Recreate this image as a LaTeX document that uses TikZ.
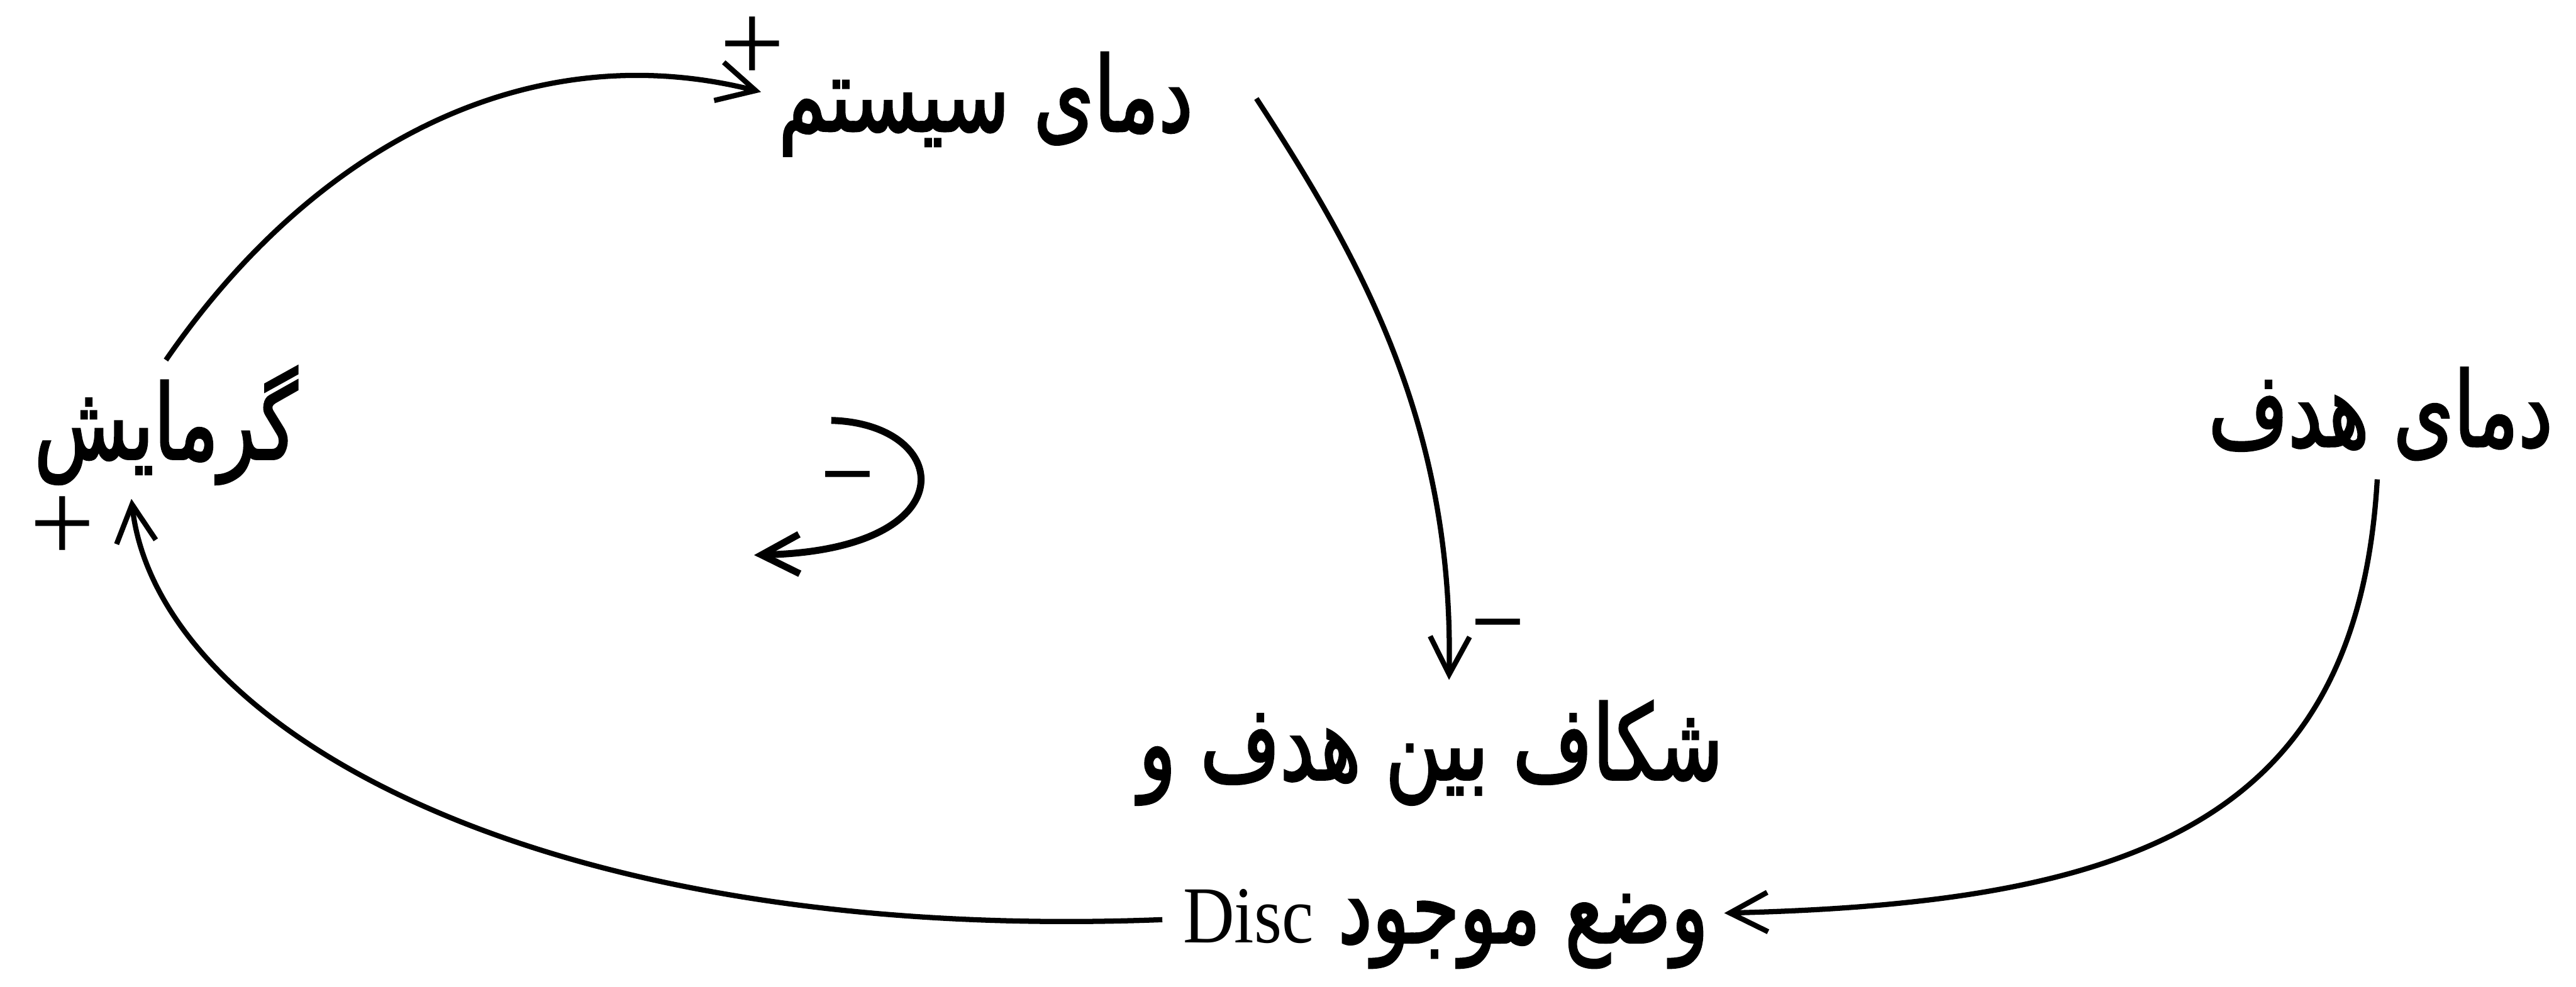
\documentclass[tikz,border=0pt]{standalone}
\usepackage{fontspec}
\TeXXeTstate=1
\newfontfamily\arabicfont[Script=Arabic, FakeStretch=0.74, FakeBold=1.8]{DejaVu Sans}
\newfontfamily\latinfont{Liberation Serif}
\newfontfamily\discfont[FakeStretch=0.88]{Liberation Serif}
\usetikzlibrary{arrows.meta}

\tikzset{
    link/.style={-{Straight Barb[length=2.3mm,width=2.4mm]}, line width=0.9pt},
    varname/.style={inner sep=0pt, font=\arabicfont\fontsize{18}{20}\selectfont},
    polarity/.style={inner sep=0pt, font=\latinfont\fontsize{20}{20}\selectfont},
    minus/.style={inner sep=0pt, font=\latinfont\bfseries\fontsize{15}{15}\selectfont}
}

\begin{document}
\begin{tikzpicture}

    \useasboundingbox (0,0) rectangle (15.68,-6.01);

    %----- VARIABLES -----
    \node[varname] (sysT)   at (6.00,-0.635) {\beginR دمای سیستم\endR};
    \node[varname] (heat)   at (1.01,-2.59)  {\beginR گرمایش\endR};
    \node[varname] (goalT)  at (14.49,-2.52) {\beginR دمای هدف\endR};
    \node[varname] (gapTop) at (8.71,-4.585) {\beginR شکاف بین هدف و\endR};
    \node[varname] (gapBot) at (8.80,-5.655)
        {\beginR وضع موجود {\discfont\fontsize{14}{16}\selectfont\beginL Disc\endL}\endR};

    %----- CAUSAL LINKS -----
    % heating raises system temperature
    \draw[link] ([yshift=0.03cm]heat.north)
        .. controls (1.9,-0.9) and (3.2,-0.2) .. ([shift={(-0.10,0.075)}]sysT.west);
    % system temperature lowers the gap
    \draw[link] ([shift={(0.38,0.035)}]sysT.east)
        .. controls (8.3,-1.6) and (8.85,-2.6) .. ([shift={(0.11,0.12)}]gapTop.north);
    % goal temperature feeds the gap
    \draw[link] ([shift={(-0.02,-0.11)}]goalT.south)
        .. controls (14.35,-5.0) and (13.0,-5.5) .. ([shift={(0.09,0.095)}]gapBot.east);
    % gap drives heating
    \draw[link] ([shift={(-0.12,0.055)}]gapBot.west)
        .. controls (3.2,-5.75) and (0.95,-4.4) .. ([shift={(-0.21,-0.08)}]heat.south);

    %----- POLARITIES -----
    \node[polarity] (pSys)  at (4.58,-0.30) {+};
    \node[polarity] (pHeat) at (0.38,-3.22) {+};
    \node[minus] (mGap) at (9.12,-3.84) {–};

    %----- LOOP SIGN -----
    \coordinate (loopA) at (5.06,-2.56);
    \coordinate (loopB) at (4.59,-3.38);
    \draw[link, line width=1.2pt] (loopA) .. controls (5.8,-2.58) and (5.9,-3.35) .. (loopB);
    \node[minus] (mLoop) at (5.16,-2.94) {–};

\end{tikzpicture}
\end{document}
